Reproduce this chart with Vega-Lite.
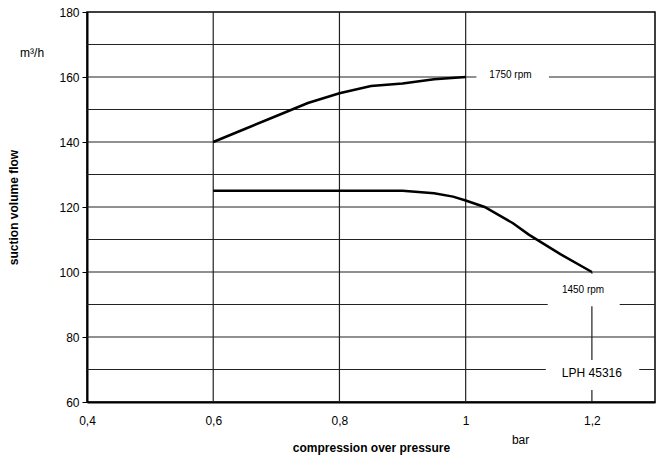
{
  "$schema": "https://vega.github.io/schema/vega-lite/v6.json",
  "autosize": "none",
  "width": 568,
  "height": 390,
  "padding": {"left": 87, "top": 12, "right": 1, "bottom": 63},
  "background": "white",
  "config": {
    "font": "Liberation Sans",
    "view": {"stroke": "black", "strokeWidth": 1.5},
    "axis": {"labelFont": "Liberation Sans", "titleFont": "Liberation Sans", "labelColor": "black", "titleColor": "black", "labelFontSize": 12, "grid": false, "domainColor": "black", "domainWidth": 2, "tickColor": "black", "labelFlush": false}
  },
  "datasets": {
    "curves": [
      {"series": "1750 rpm", "p": 0.6, "q": 140},
      {"series": "1750 rpm", "p": 0.65, "q": 144},
      {"series": "1750 rpm", "p": 0.7, "q": 148},
      {"series": "1750 rpm", "p": 0.75, "q": 152},
      {"series": "1750 rpm", "p": 0.8, "q": 155},
      {"series": "1750 rpm", "p": 0.85, "q": 157.2},
      {"series": "1750 rpm", "p": 0.9, "q": 158},
      {"series": "1750 rpm", "p": 0.95, "q": 159.3},
      {"series": "1750 rpm", "p": 1.0, "q": 160},
      {"series": "1450 rpm", "p": 0.6, "q": 125},
      {"series": "1450 rpm", "p": 0.9, "q": 125},
      {"series": "1450 rpm", "p": 0.95, "q": 124.2},
      {"series": "1450 rpm", "p": 0.98, "q": 123.2},
      {"series": "1450 rpm", "p": 1.0, "q": 122},
      {"series": "1450 rpm", "p": 1.03, "q": 120},
      {"series": "1450 rpm", "p": 1.075, "q": 115},
      {"series": "1450 rpm", "p": 1.1, "q": 111.5},
      {"series": "1450 rpm", "p": 1.15, "q": 105.5},
      {"series": "1450 rpm", "p": 1.2, "q": 100}
    ],
    "hgrid": [{"g": 70}, {"g": 80}, {"g": 90}, {"g": 100}, {"g": 110}, {"g": 120}, {"g": 130}, {"g": 140}, {"g": 150}, {"g": 160}, {"g": 170}],
    "vgrid": [
      {"x": 0.6, "y1": 60, "y2": 180},
      {"x": 0.8, "y1": 60, "y2": 180},
      {"x": 1.0, "y1": 60, "y2": 180},
      {"x": 1.2, "y1": 60, "y2": 100}
    ],
    "labels": [
      {"text": "1750 rpm", "x": 1.071, "y": 160.6, "x1": 1.017, "x2": 1.132, "y1": 157, "y2": 163, "size": 10},
      {"text": "1450 rpm", "x": 1.186, "y": 94.5, "x1": 1.13, "x2": 1.244, "y1": 89.5, "y2": 99.5, "size": 10},
      {"text": "LPH 45316", "x": 1.2, "y": 68.9, "x1": 1.127, "x2": 1.275, "y1": 63.7, "y2": 72.9, "size": 12}
    ],
    "units": [
      {"text": "m³/h", "x": 0.313, "y": 167.4},
      {"text": "bar", "x": 1.087, "y": 48.3}
    ]
  },
  "layer": [
    {
      "data": {"name": "hgrid"},
      "mark": {"type": "rule", "color": "#222", "strokeWidth": 1.2},
      "encoding": {
        "y": {"field": "g", "type": "quantitative", "scale": {"domain": [60, 180], "nice": false, "zero": false},
          "axis": {"values": [60, 80, 100, 120, 140, 160, 180], "tickSize": 5, "labelPadding": 3, "title": "suction volume flow", "titleFontSize": 12, "titleFontWeight": "bold", "titlePadding": 38}}
      }
    },
    {
      "data": {"name": "vgrid"},
      "mark": {"type": "rule", "color": "#222", "strokeWidth": 1.2},
      "encoding": {
        "x": {"field": "x", "type": "quantitative", "scale": {"domain": [0.4, 1.3], "nice": false, "zero": false},
          "axis": {"values": [0.4, 0.6, 0.8, 1, 1.2], "ticks": false, "labelPadding": 13, "labelExpr": "replace(toString(datum.value), '.', ',')", "title": "compression over pressure", "titleFontSize": 12, "titleFontWeight": "bold", "titlePadding": 16}},
        "y": {"field": "y1", "type": "quantitative"},
        "y2": {"field": "y2"}
      }
    },
    {
      "data": {"name": "labels"},
      "mark": {"type": "rect", "color": "white"},
      "encoding": {
        "x": {"field": "x1", "type": "quantitative"},
        "x2": {"field": "x2"},
        "y": {"field": "y1", "type": "quantitative"},
        "y2": {"field": "y2"}
      }
    },
    {
      "data": {"name": "curves"},
      "mark": {"type": "line", "color": "black", "strokeWidth": 2.5},
      "encoding": {
        "x": {"field": "p", "type": "quantitative"},
        "y": {"field": "q", "type": "quantitative"},
        "detail": {"field": "series"}
      }
    },
    {
      "data": {"name": "labels"},
      "mark": {"type": "text", "color": "black", "font": "Liberation Sans", "baseline": "middle", "align": "center"},
      "encoding": {
        "x": {"field": "x", "type": "quantitative"},
        "y": {"field": "y", "type": "quantitative"},
        "text": {"field": "text"},
        "size": {"field": "size", "type": "quantitative", "scale": null}
      }
    },
    {
      "data": {"name": "units"},
      "mark": {"type": "text", "color": "black", "font": "Liberation Sans", "fontSize": 12, "baseline": "middle", "align": "center", "clip": false},
      "encoding": {
        "x": {"field": "x", "type": "quantitative"},
        "y": {"field": "y", "type": "quantitative"},
        "text": {"field": "text"}
      }
    }
  ]
}
